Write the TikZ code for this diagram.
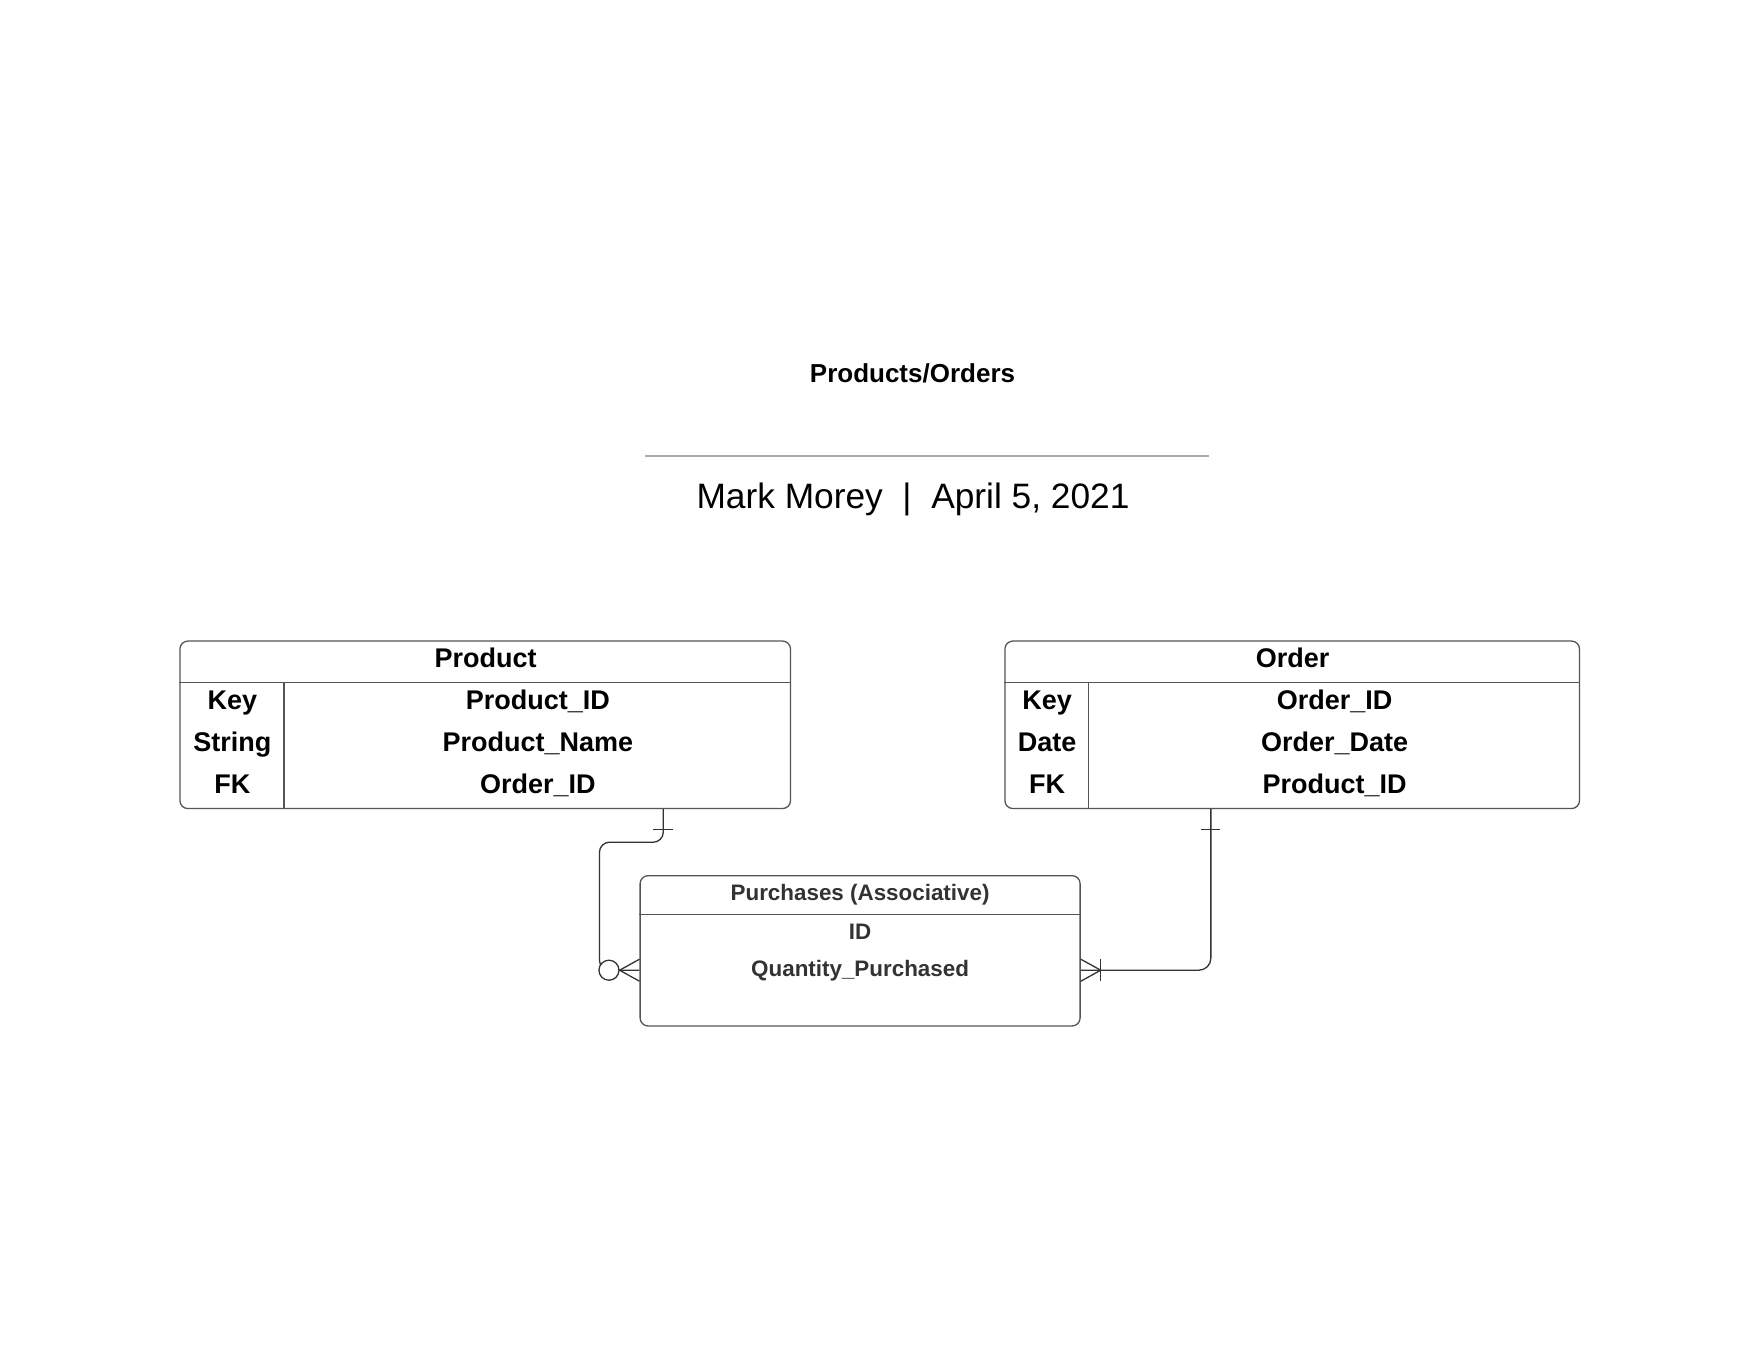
\documentclass[tikz,border=0pt]{standalone}
\usepackage{fontspec}
\setmainfont{Liberation Sans}
\usetikzlibrary{calc}
\definecolor{tblc}{RGB}{85,85,85}
\definecolor{conc}{RGB}{51,51,51}
\definecolor{rulec}{RGB}{170,170,170}
\definecolor{ptxt}{RGB}{51,51,51}
\tikzset{
  tbl/.style={draw=tblc, line width=1.3pt, rounded corners=8pt, inner sep=0pt, fill=white},
  sepline/.style={draw=tblc, line width=1.3pt},
  fld/.style={font=\fontsize{27}{32}\selectfont\bfseries, inner sep=0pt, anchor=base},
  pfld/.style={font=\fontsize{22.4}{27}\selectfont\bfseries, text=ptxt, inner sep=0pt, anchor=base},
  conn/.style={draw=conc, line width=1.3pt},
}
\begin{document}
\begin{tikzpicture}[x=1pt,y=-1pt]
\useasboundingbox[fill=white] (0,0) rectangle (1760,1360);

% title
\node[font=\fontsize{26}{31}\selectfont\bfseries, inner sep=0pt, anchor=base] (title) at (912.5,382) {Products/Orders};
\coordinate (rl) at (645,456);
\coordinate (rr) at (1209,456);
\draw[draw=rulec, line width=2pt] (rl) -- (rr);
\node[font=\fontsize{35.3}{42}\selectfont, inner sep=0pt, anchor=base] (sub) at (913,508) {Mark Morey \ | \ April 5, 2021};

% Product table
\node[tbl, minimum width=610.6pt, minimum height=167.5pt] (prod) at (485.2,724.8) {};
\draw[sepline] ($(prod.north west)+(0,42.3)$) -- ($(prod.north east)+(0,42.3)$);
\draw[sepline] ($(prod.north west)+(104.6,42.3)$) -- ($(prod.south west)+(104.6,0)$);
\node[fld] (prodh) at (485.6,667.6) {Product};
\node[fld] (pk1) at (232.3,709.4) {Key};
\node[fld] (pk2) at (232.3,751.3) {String};
\node[fld] (pk3) at (232.3,793.4) {FK};
\node[fld] (pv1) at (537.8,709.4) {Product\_ID};
\node[fld] (pv2) at (537.8,751.3) {Product\_Name};
\node[fld] (pv3) at (537.8,793.4) {Order\_ID};

% Order table
\node[tbl, minimum width=574.6pt, minimum height=167.5pt] (ord) at (1292.2,724.8) {};
\draw[sepline] ($(ord.north west)+(0,42.3)$) -- ($(ord.north east)+(0,42.3)$);
\draw[sepline] ($(ord.north west)+(84.3,42.3)$) -- ($(ord.south west)+(84.3,0)$);
\node[fld] (ordh) at (1292.6,667.6) {Order};
\node[fld] (ok1) at (1047.2,709.4) {Key};
\node[fld] (ok2) at (1047.2,751.3) {Date};
\node[fld] (ok3) at (1047.2,793.4) {FK};
\node[fld] (ov1) at (1334.6,709.4) {Order\_ID};
\node[fld] (ov2) at (1334.6,751.3) {Order\_Date};
\node[fld] (ov3) at (1334.6,793.4) {Product\_ID};

% Purchases table
\node[tbl, minimum width=440pt, minimum height=150.3pt] (pur) at (860.1,950.8) {};
\draw[sepline] ($(pur.north west)+(0,39.8)$) -- ($(pur.north east)+(0,39.8)$);
\node[pfld] (purh) at (860.1,900.8) {Purchases (Associative)};
\node[pfld] (pu1) at (860.1,939) {ID};
\node[pfld] (pu2) at (860.1,976.2) {Quantity\_Purchased};

% connectors
\coordinate (la) at ($(prod.south west)+(484,0)$);
\coordinate (lb) at ($(pur.north west)+(0,95.2)$);
\coordinate (ra) at ($(ord.south west)+(206.6,0)$);
\coordinate (rb) at ($(pur.north east)+(0,95.2)$);

\draw[conn, rounded corners=10pt] (la) -- ++(0,33) -| ($(lb)+(-40,0)$) -- (lb);
\draw[conn] ($(la)+(-10,20)$) -- ($(la)+(10,20)$);
\node[draw=conc, line width=1.3pt, fill=white, circle, minimum size=20pt, inner sep=0pt] (lc) at ($(lb)+(-30.5,0)$) {};
\draw[conn] (lc.east) -- ($(lb)+(0,-11)$);
\draw[conn] (lc.east) -- ($(lb)+(0,11)$);

\draw[conn, rounded corners=12pt] (ra) |- (rb);
\draw[conn] ($(ra)+(-9.5,20)$) -- ($(ra)+(9.5,20)$);
\draw[conn] ($(rb)+(20,0)$) -- ($(rb)+(0,-11)$);
\draw[conn] ($(rb)+(20,0)$) -- ($(rb)+(0,11)$);
\draw[conn] ($(rb)+(20,-11)$) -- ($(rb)+(20,11)$);
\end{tikzpicture}
\end{document}
